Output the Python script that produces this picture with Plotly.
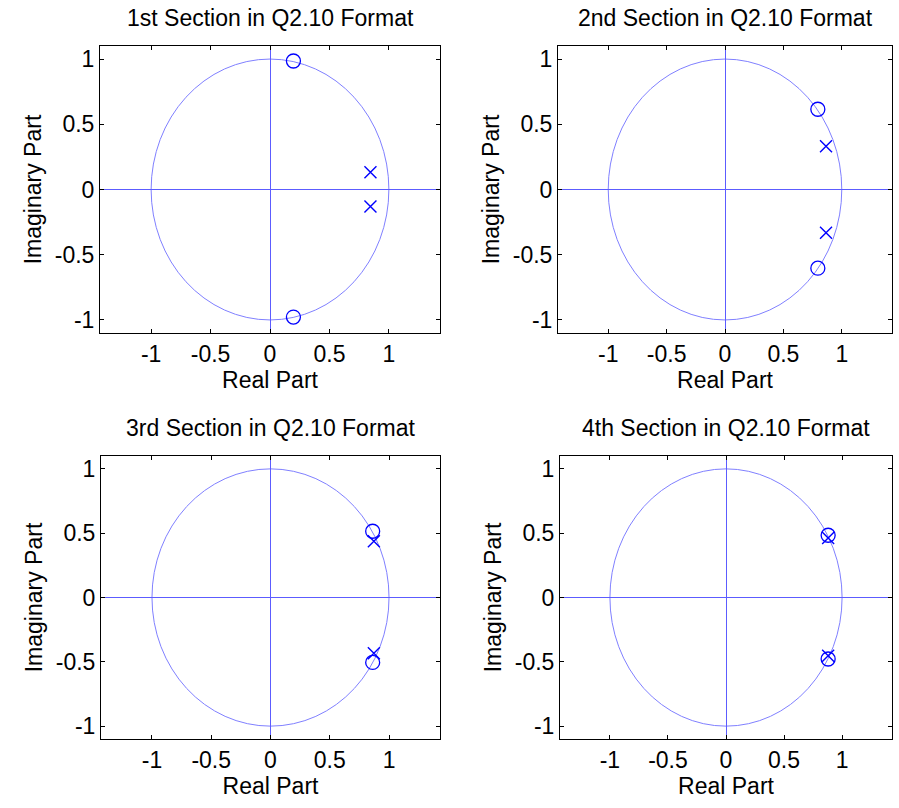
import plotly.graph_objects as go

# ---- data ----
titles = ["1st Section in Q2.10 Format", "2nd Section in Q2.10 Format",
          "3rd Section in Q2.10 Format", "4th Section in Q2.10 Format"]

zeros_re = [[0.197, 0.197], [0.795, 0.795], [0.862, 0.862], [0.88, 0.88]]
zeros_im = [[0.985, -0.978], [0.615, -0.603], [0.515, -0.505], [0.484, -0.478]]
poles_re = [[0.845, 0.845], [0.865, 0.865], [0.872, 0.872], [0.88, 0.88]]
poles_im = [[0.133, -0.13], [0.332, -0.332], [0.437, -0.433], [0.462, -0.452]]

tick_vals = [-1, -0.5, 0, 0.5, 1]
tick_text = ["-1", "-0.5", "0", "0.5", "1"]

x_range = [-1.43, 1.43]
y_range = [-1.1, 1.1]

# ---- layout geometry (pixels) ----
W, H = 899, 808
FONT = "Liberation Sans, Arial, sans-serif"
FS = 23

panels = [  # (left, right, top, bottom) in px
    (100, 440, 46, 333),
    (558, 892, 46, 333),
    (101, 440, 456, 739),
    (560, 892, 456, 739),
]

fig = go.Figure()
layout = dict(width=W, height=H, margin=dict(l=0, r=0, t=0, b=0),
              plot_bgcolor="white", paper_bgcolor="white", showlegend=False,
              font=dict(family=FONT, size=FS, color="black"))
annotations = []
shapes = []
blue = "#0000ff"
light = "#8080ff"
axis_blue = "#5c5cff"

for i, (l, r, t, b) in enumerate(panels):
    n = i + 1
    xa = "xaxis" if n == 1 else f"xaxis{n}"
    ya = "yaxis" if n == 1 else f"yaxis{n}"
    xr = "x" if n == 1 else f"x{n}"
    yr = "y" if n == 1 else f"y{n}"
    common = dict(showline=True, linecolor="black", linewidth=1, mirror="ticks",
                  ticks="inside", ticklen=4, tickcolor="black", tickwidth=1,
                  tickmode="array", tickvals=tick_vals, ticktext=tick_text,
                  showgrid=False, zeroline=True, zerolinecolor=axis_blue,
                  zerolinewidth=1, tickfont=dict(family=FONT, size=FS),
                  fixedrange=True)
    layout[xa] = dict(common, domain=[l / W, r / W], range=x_range,
                      anchor=yr, title=dict(text="Real Part", standoff=4,
                                            font=dict(family=FONT, size=FS)))
    layout[ya] = dict(common, domain=[1 - b / H, 1 - t / H], range=y_range,
                      anchor=xr, title=dict(text="Imaginary Part", standoff=6,
                                            font=dict(family=FONT, size=FS)))
    # unit circle
    shapes.append(dict(type="circle", xref=xr, yref=yr, x0=-1, y0=-1, x1=1, y1=1,
                       line=dict(color=light, width=1), layer="below"))
    annotations.append(dict(text=titles[i], xref="paper", yref="paper",
                            x=(l + r) / 2 / W, y=1 - (t - 28) / H,
                            xanchor="center", yanchor="middle", showarrow=False,
                            font=dict(family=FONT, size=FS)))
    fig.add_trace(go.Scatter(x=zeros_re[i], y=zeros_im[i], mode="markers",
                             xaxis=xr, yaxis=yr,
                             marker=dict(symbol="circle-open", size=14,
                                         color=blue, line=dict(width=1.3, color=blue))))
    fig.add_trace(go.Scatter(x=poles_re[i], y=poles_im[i], mode="markers",
                             xaxis=xr, yaxis=yr,
                             marker=dict(symbol="x-thin-open", size=12,
                                         color=blue, line=dict(width=1.4, color=blue))))

layout["annotations"] = annotations
layout["shapes"] = shapes
fig.update_layout(**layout)
fig.write_html("out.html")
